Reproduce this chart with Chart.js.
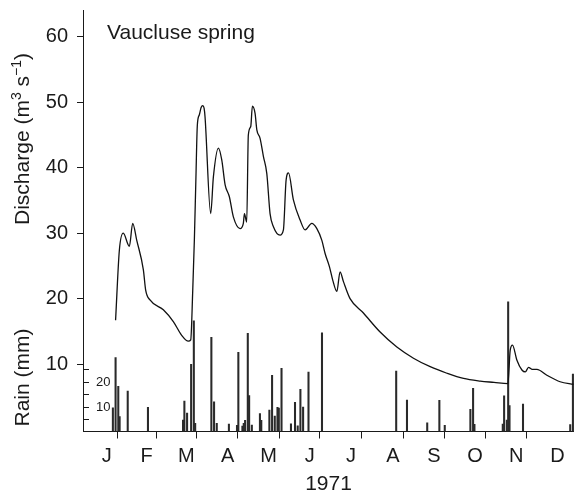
<!DOCTYPE html>
<html>
<head>
<meta charset="utf-8">
<script src="https://cdn.jsdelivr.net/npm/chart.js@4.4.0/dist/chart.umd.min.js"></script>
<style>
body { margin: 0; background: #fff; }
canvas { display: block; }
</style>
</head>
<body>
<canvas id="myChart" width="574" height="493"></canvas>
<script>
// Vaucluse spring, 1971 - x values are day of year
var dischargeDays = [22, 24.8, 27.7, 32.2, 34.7, 37.7, 42.6, 44.3, 47.5, 57.4, 64.8, 71, 75.9, 77.7, 79.2, 80.4,
    81.5, 82.6, 84.1, 85.4, 86.6, 87.6, 88.3, 92.5, 94.5, 98.2, 100.7, 103.2, 106.3, 109.3, 114.3, 116.7, 117.5,
    119.2, 120.4, 122.2, 123.4, 125.4, 126.7, 129.1, 131.6, 134.1, 136.5, 139, 143.9, 146.4, 148.4, 150.2, 153.8,
    158.8, 162.5, 167.4, 171.2, 174.9, 177.3, 180.5, 183, 186, 188.4, 190.9, 195.8, 205.7, 218.1, 230.5, 242.8,
    255.2, 267.6, 279.9, 292.3, 302.5, 312.8, 314.5, 316.2, 319.5, 323.2, 325.7, 328.1, 330.6, 334.3, 341.7, 351.5, 361.4];
var dischargeValues = [16.7, 27.4, 30.0, 28.0, 31.5, 28.9, 24.4, 21.3, 19.8, 18.3, 16.5, 14.4, 13.5, 13.7, 21.3, 29.0,
    38.0, 46.5, 48.1, 49.2, 49.5, 49.1, 47.8, 33.0, 38.6, 43.0, 41.2, 37.4, 35.6, 32.5, 30.7, 31.5, 33.0,
    31.7, 45.0, 46.3, 49.4, 48.3, 45.8, 44.5, 41.7, 39.1, 33.0, 31.0, 29.7, 30.5, 38.1, 39.2, 35.1,
    32.0, 30.5, 31.5, 30.7, 28.9, 26.9, 24.9, 22.8, 21.1, 24.1, 22.6, 20.0, 17.8, 14.9, 12.6, 10.9,
    9.6, 8.6, 7.8, 7.4, 7.2, 7.0, 12.1, 12.9, 10.6, 9.1, 8.8, 9.5, 9.2, 9.2, 8.3, 7.3, 6.9];

var rainDays = [20, 22, 24, 25, 31, 46, 72, 73, 75, 78, 80, 81, 93, 95, 97, 106, 112, 113, 116, 117, 118, 120, 121, 123,
    129, 130, 136, 138, 140, 142, 143, 145, 152, 155, 157, 159, 161, 165, 175, 230, 238, 253, 262, 266,
    285, 287, 288, 309, 310, 312, 313, 314, 324, 359, 361];
var rainValues = [9.5, 29.6, 18.1, 6.0, 16.2, 9.7, 4.6, 12.2, 7.4, 26.9, 44.3, 3.3, 37.7, 11.9, 3.3, 3.0, 2.5, 31.7, 2.2, 3.3, 4.5, 39.3, 14.4, 2.6,
    7.2, 4.5, 8.6, 22.5, 6.2, 9.7, 9.4, 25.3, 3.1, 11.7, 2.3, 16.9, 9.8, 23.8, 39.5, 24.2, 12.6, 3.5, 12.5, 2.5,
    8.9, 17.3, 2.9, 3.0, 14.3, 4.6, 51.9, 10.4, 11.0, 2.8, 23.0];

var monthLabels = ['J', 'F', 'M', 'A', 'M', 'J', 'J', 'A', 'S', 'O', 'N', 'D'];
var monthStarts = [0, 31, 59, 90, 120, 151, 181, 212, 243, 273, 304, 334, 365];
var dischargeTicks = [10, 20, 30, 40, 50, 60];
var rainTicks = [5, 10, 15, 20, 25];
var rainTickLabels = ['', '10', '', '20', ''];

var FONT = '"Liberation Sans", Arial, Helvetica, sans-serif';
var INK = '#1a1a1a';

var monthEnds = monthStarts.slice(1, 12);
var monthMids = [];
for (var i = 0; i < 12; i++) {
    monthMids.push((monthStarts[i] + monthStarts[i + 1]) / 2);
}
var xTickValues = monthEnds.concat(monthMids).sort(function (a, b) { return a - b; });

var dischargeData = dischargeDays.map(function (d, i) { return { x: d, y: dischargeValues[i] }; });
var rainData = rainDays.map(function (d, i) { return { x: d, y: rainValues[i] }; });

// rain axis ticks, titles and the station name
var extraText = {
    id: 'extraText',
    afterDraw: function (chart) {
        var ctx = chart.ctx;
        var area = chart.chartArea;
        var rain = chart.scales.rain;
        ctx.save();
        ctx.strokeStyle = INK;
        ctx.fillStyle = INK;
        ctx.lineWidth = 1;
        ctx.font = '13px ' + FONT;
        ctx.textAlign = 'left';
        ctx.textBaseline = 'middle';
        rainTicks.forEach(function (v, i) {
            var y = Math.round(rain.getPixelForValue(v)) + 0.5;
            ctx.beginPath();
            ctx.moveTo(area.left, y);
            ctx.lineTo(area.left + 6, y);
            ctx.stroke();
            if (rainTickLabels[i]) {
                ctx.fillText(rainTickLabels[i], area.left + 13, y);
            }
        });

        ctx.textBaseline = 'alphabetic';
        ctx.font = '21px ' + FONT;
        ctx.fillText('Vaucluse spring', 107, 39);

        // Discharge (m3 s-1), rotated
        var parts = [
            { t: 'Discharge (m', sup: false },
            { t: '3', sup: true },
            { t: ' s', sup: false },
            { t: '\u22121', sup: true },
            { t: ')', sup: false }
        ];
        var total = 0;
        parts.forEach(function (p) {
            ctx.font = (p.sup ? '14px ' : '21px ') + FONT;
            p.w = ctx.measureText(p.t).width;
            total += p.w;
        });
        ctx.save();
        ctx.translate(28.5, 139);
        ctx.rotate(-Math.PI / 2);
        var x = -total / 2;
        parts.forEach(function (p) {
            ctx.font = (p.sup ? '14px ' : '21px ') + FONT;
            ctx.fillText(p.t, x, p.sup ? -8 : 0);
            x += p.w;
        });
        ctx.restore();

        ctx.save();
        ctx.translate(28.5, 377.5);
        ctx.rotate(-Math.PI / 2);
        ctx.font = '21px ' + FONT;
        ctx.textAlign = 'center';
        ctx.fillText('Rain (mm)', 0, 0);
        ctx.restore();

        ctx.restore();
    }
};

var ctx = document.getElementById('myChart').getContext('2d');

var myChart = new Chart(ctx, {
    type: 'bar',
    data: {
        datasets: [{
            type: 'line',
            label: 'Discharge',
            data: dischargeData,
            yAxisID: 'y',
            borderColor: '#111',
            borderWidth: 1.3,
            pointRadius: 0,
            fill: false,
            cubicInterpolationMode: 'monotone',
            order: 1
        }, {
            type: 'bar',
            label: 'Rain',
            data: rainData,
            yAxisID: 'rain',
            backgroundColor: '#2a2a2a',
            barThickness: 1.4,
            order: 2
        }]
    },
    options: {
        responsive: false,
        animation: false,
        devicePixelRatio: 1,
        layout: { padding: { top: 10, right: 0, bottom: 0, left: 0 } },
        plugins: {
            legend: { display: false },
            tooltip: { enabled: false }
        },
        scales: {
            x: {
                type: 'linear',
                min: -2.15,
                max: 361.8,
                offset: false,
                afterBuildTicks: function (scale) {
                    scale.ticks = xTickValues.map(function (v) { return { value: v }; });
                },
                afterFit: function (scale) {
                    scale.height = 61.5;
                    scale.paddingLeft = 0;
                    scale.paddingRight = 0;
                },
                ticks: {
                    autoSkip: false,
                    maxRotation: 0,
                    padding: 6,
                    color: INK,
                    font: { family: FONT, size: 20 },
                    callback: function (value) {
                        var i = monthMids.indexOf(value);
                        return i >= 0 ? monthLabels[i] : '';
                    }
                },
                grid: {
                    drawOnChartArea: false,
                    tickLength: 7,
                    tickColor: function (c) {
                        return c.tick && monthEnds.indexOf(c.tick.value) >= 0 ? INK : 'rgba(0,0,0,0)';
                    }
                },
                border: { color: INK, width: 1 },
                title: {
                    display: true,
                    text: '1971',
                    color: INK,
                    font: { family: FONT, size: 21, lineHeight: 0.8 },
                    padding: 0
                }
            },
            y: {
                min: -0.3,
                max: 64.1,
                afterBuildTicks: function (scale) {
                    scale.ticks = dischargeTicks.map(function (v) { return { value: v }; });
                },
                afterFit: function (scale) {
                    scale.width = 83;
                    scale.paddingTop = 0;
                    scale.paddingBottom = 0;
                },
                ticks: {
                    padding: 9,
                    color: INK,
                    font: { family: FONT, size: 20 }
                },
                grid: { drawOnChartArea: false, tickLength: 6, tickColor: INK },
                border: { color: INK, width: 1 }
            },
            rain: {
                axis: 'y',
                position: 'right',
                display: false,
                min: 0,
                max: 168.6
            }
        }
    },
    plugins: [extraText]
});
</script>
</body>
</html>
